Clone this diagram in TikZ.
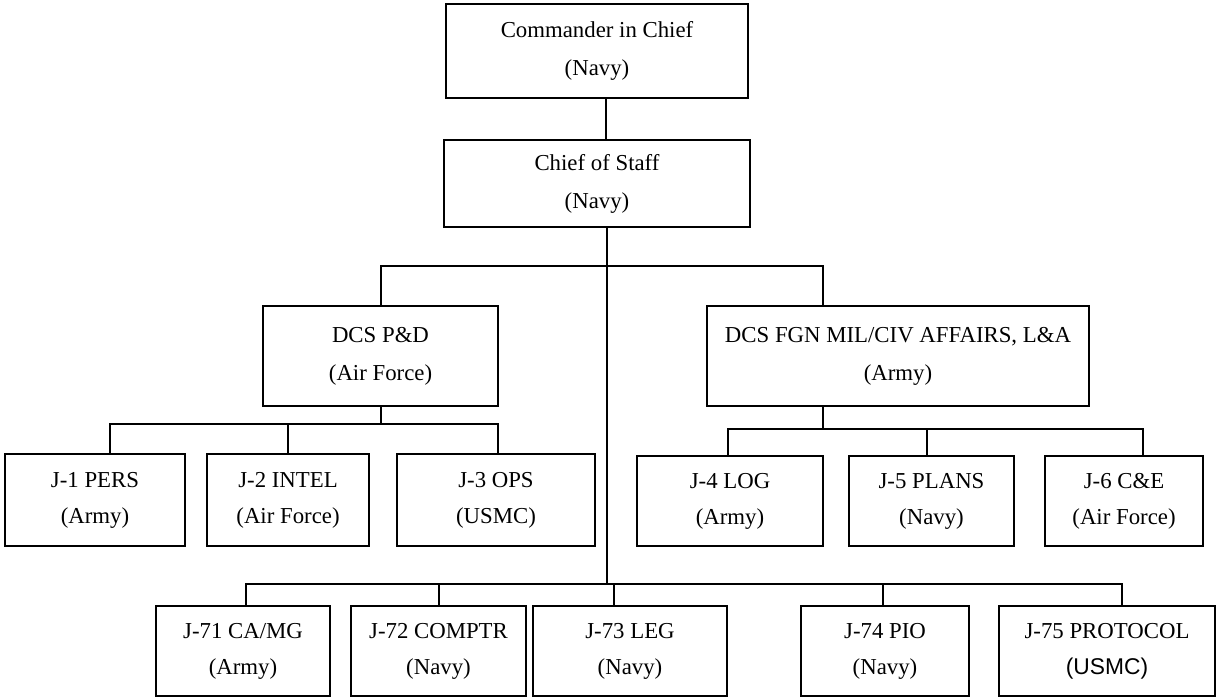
\documentclass[tikz,border=0pt]{standalone}
\usepackage{fontspec}
\setmainfont{Liberation Serif}
\setsansfont{Liberation Sans}
\usepackage{xcolor}
\usepackage{tikz}
\usetikzlibrary{positioning}

\begin{document}
\begin{tikzpicture}[
  x=0.5pt, y=-0.5pt,
  font=\fontsize{11.4pt}{19pt}\selectfont,
  orgBox/.style={rectangle, draw, line width=1pt, align=center, inner sep=0pt},
  staffBox/.style={orgBox, font=\fontsize{11.4pt}{18pt}\selectfont},
  orgLine/.style={draw, line width=1pt, line cap=rect}
]
  \useasboundingbox (0,0) rectangle (1220,697);

  \node [orgBox, minimum width=151pt, minimum height=47pt] (cinc) at (597,51) {Commander in Chief\\(Navy)};
  \node [orgBox, minimum width=153pt, minimum height=43.5pt] (cos) [below=20pt of cinc] {Chief of Staff\\(Navy)};

  \node [orgBox, minimum width=117.5pt, minimum height=50pt] (pnd) at (380.5,356) {DCS P\&D\\(Air Force)};
  \node [orgBox, minimum width=191pt, minimum height=50pt] (fgn) [right=103.5pt of pnd] {DCS FGN MIL/CIV AFFAIRS, L\&A\\(Army)};

  \node [staffBox, minimum width=90pt, minimum height=46pt] (j1) at (95,500) {J-1 PERS\\(Army)};
  \node [staffBox, minimum width=81pt, minimum height=46pt] (j2) [right=10pt of j1] {J-2 INTEL\\(Air Force)};
  \node [staffBox, minimum width=99pt, minimum height=46pt] (j3) [right=13pt of j2] {J-3 OPS\\(USMC)};

  \node [staffBox, minimum width=93pt, minimum height=45pt] (j4) at (730,501) {J-4 LOG\\(Army)};
  \node [staffBox, minimum width=82.5pt, minimum height=45pt] (j5) [right=12pt of j4] {J-5 PLANS\\(Navy)};
  \node [staffBox, minimum width=79pt, minimum height=45pt] (j6) [right=14.5pt of j5] {J-6 C\&E\\(Air Force)};

  \node [staffBox, minimum width=87pt, minimum height=45pt] (j71) at (243,651) {J-71 CA/MG\\(Army)};
  \node [staffBox, minimum width=87.5pt, minimum height=45pt] (j72) [right=9.5pt of j71] {J-72 COMPTR\\(Navy)};
  \node [staffBox, minimum width=97pt, minimum height=45pt] (j73) [right=2.5pt of j72] {J-73 LEG\\(Navy)};
  \node [staffBox, minimum width=84pt, minimum height=45pt] (j74) [right=36pt of j73] {J-74 PIO\\(Navy)};
  \node [staffBox, minimum width=108pt, minimum height=45pt] (j75) [right=14pt of j74] {J-75 PROTOCOL\\{\sffamily (USMC)}};

  \coordinate (busTop) at (0,266);
  \coordinate (busLeft) at (0,424);
  \coordinate (busRight) at (0,429);
  \coordinate (busLow) at (0,584);

  \draw [orgLine] ([xshift=4.5pt]cinc.south) -- ([xshift=4.5pt]cinc.south |- cos.north);
  \draw [orgLine] ([xshift=5pt]cos.south) -- ([xshift=5pt]cos.south |- busLow);
  \draw [orgLine] (pnd.north) -- (pnd.north |- busTop) -- ([xshift=-37.5pt]fgn.north |- busTop) -- ([xshift=-37.5pt]fgn.north);

  \draw [orgLine] (pnd.south) -- (pnd.south |- busLeft);
  \draw [orgLine] ([xshift=7.5pt]j1.north |- busLeft) -- ([xshift=1pt]j3.north |- busLeft);
  \foreach \n/\dx in {j1/7.5, j2/0, j3/1}
    \draw [orgLine] ([xshift=\dx pt]\n.north) -- ([xshift=\dx pt]\n.north |- busLeft);

  \draw [orgLine] ([xshift=-37.5pt]fgn.south) -- ([xshift=-37.5pt]fgn.south |- busRight);
  \draw [orgLine] ([xshift=-1pt]j4.north |- busRight) -- ([xshift=9.5pt]j6.north |- busRight);
  \foreach \n/\dx in {j4/-1, j5/-2.5, j6/9.5}
    \draw [orgLine] ([xshift=\dx pt]\n.north) -- ([xshift=\dx pt]\n.north |- busRight);

  \draw [orgLine] ([xshift=1.5pt]j71.north |- busLow) -- ([xshift=7.5pt]j75.north |- busLow);
  \foreach \n/\dx in {j71/1.5, j72/0, j73/-8, j74/-1, j75/7.5}
    \draw [orgLine] ([xshift=\dx pt]\n.north) -- ([xshift=\dx pt]\n.north |- busLow);
\end{tikzpicture}
\end{document}
